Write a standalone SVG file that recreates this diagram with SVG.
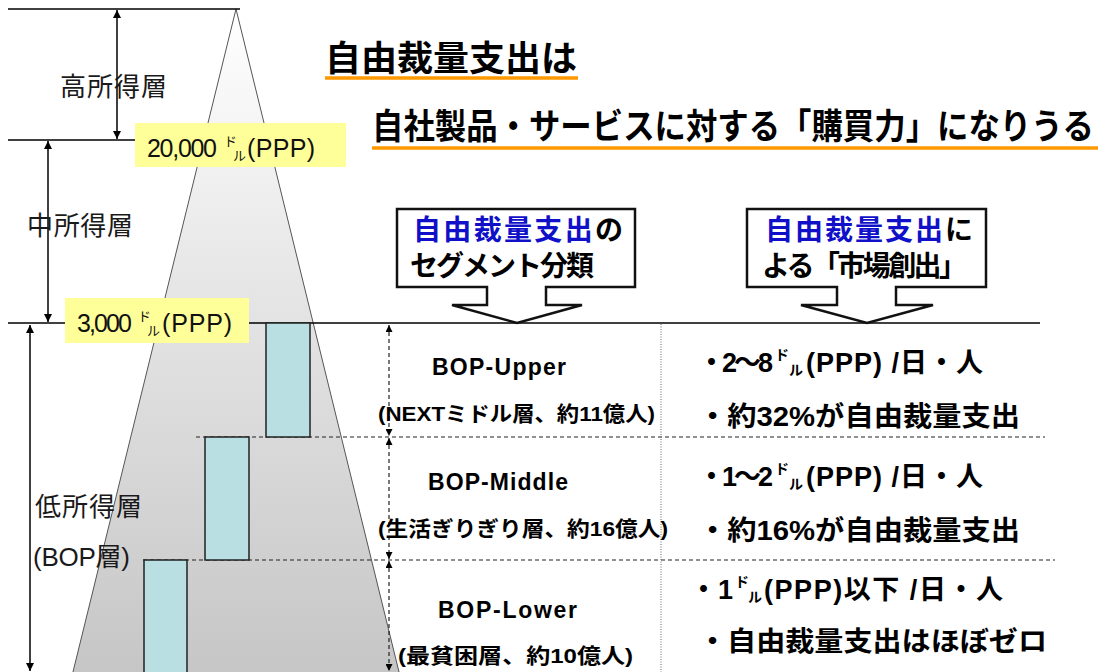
<svg xmlns="http://www.w3.org/2000/svg" width="1103" height="672" viewBox="0 0 1103 672">
<style>
text{font-family:"Liberation Sans","Noto Sans CJK JP",sans-serif;}
.lbl{font-size:26px;fill:#1a1a1a;}
.yl{font-size:25px;fill:#111;}
.ttl{font-size:31px;font-weight:bold;fill:#000;}
.co{font-size:28px;font-weight:bold;fill:#000;}
.blue{fill:#1010c8;}
.bop{font-size:23px;font-weight:bold;fill:#000;}
.sub{font-size:21px;font-weight:bold;fill:#000;}
.rc{font-size:27px;font-weight:bold;fill:#000;}
text.sm{font-size:13px;}
text.rc.sm{font-size:14px;}
.solid{stroke:#000;stroke-width:1.5;fill:none;}
.dash{stroke:#222;stroke-width:1.2;stroke-dasharray:4 3;fill:none;}
.teal{fill:#b9dfe2;stroke:#222;stroke-width:1.5;}
.ybox{fill:#ffff99;}
.callout{fill:#fff;stroke:#111;stroke-width:2.5;}
.uline{stroke:#ff9900;stroke-width:3.5;}
</style>
<defs>
<linearGradient id="g" x1="0" y1="9" x2="0" y2="672" gradientUnits="userSpaceOnUse">
<stop offset="0" stop-color="#ffffff"/>
<stop offset="0.47" stop-color="#e3e3e3"/>
<stop offset="1" stop-color="#c6c6c6"/>
</linearGradient>
<marker id="ah" viewBox="0 0 10 10" refX="10" refY="5" markerWidth="8" markerHeight="8" markerUnits="userSpaceOnUse" orient="auto-start-reverse">
<path d="M0,0 L10,5 L0,10 Z" fill="#000"/>
</marker>
<marker id="ahs" viewBox="0 0 10 10" refX="10" refY="5" markerWidth="7" markerHeight="7" markerUnits="userSpaceOnUse" orient="auto-start-reverse">
<path d="M0,0 L10,5 L0,10 Z" fill="#000"/>
</marker>
</defs>

<g id="pyramid">
<polygon points="236,9 71,680 401,680" fill="url(#g)" stroke="#555" stroke-width="1"/>
</g>

<g id="levels">
<line x1="8" y1="9" x2="240" y2="9" class="solid" stroke-width="1.2"/>
<line x1="8" y1="140" x2="140" y2="140" class="solid" stroke-width="1.2"/>
<line x1="8" y1="323" x2="1040" y2="323" class="solid" stroke-width="1.2"/>
<line x1="196" y1="437" x2="1045" y2="437" class="dash"/>
<line x1="143" y1="560" x2="1055" y2="560" class="dash"/>
<line x1="661" y1="324" x2="661" y2="672" stroke="#666" stroke-width="1" stroke-dasharray="1 1.5"/>
</g>

<g id="bars">
<rect x="266" y="323" width="44" height="114" class="teal"/>
<rect x="205" y="437" width="44" height="123" class="teal"/>
<rect x="144" y="560" width="43" height="120" class="teal"/>
</g>

<g id="connectors">
<line x1="117" y1="10" x2="117" y2="139" class="solid" marker-start="url(#ah)" marker-end="url(#ah)"/>
<line x1="48" y1="141" x2="48" y2="322" class="solid" marker-start="url(#ah)" marker-end="url(#ah)"/>
<line x1="30" y1="325" x2="30" y2="671" class="solid" marker-start="url(#ah)" marker-end="url(#ah)"/>
<line x1="389" y1="325" x2="389" y2="436" class="dash" marker-start="url(#ahs)" marker-end="url(#ahs)"/>
<line x1="389" y1="438" x2="389" y2="559" class="dash" marker-start="url(#ahs)" marker-end="url(#ahs)"/>
<line x1="389" y1="561" x2="389" y2="671" class="dash" marker-start="url(#ahs)" marker-end="url(#ahs)"/>
</g>

<g id="label-high"><text class="lbl" x="60" y="96" textLength="107">高所得層</text></g>
<g id="label-mid"><text class="lbl" x="27" y="235" textLength="106">中所得層</text></g>
<g id="label-low">
<text class="lbl" x="35" y="516" textLength="107">低所得層</text>
<text class="lbl" x="33" y="566" textLength="97">(BOP層)</text>
</g>

<g id="price-20000">
<rect x="135" y="123" width="211" height="44" class="ybox"/>
<text class="yl" x="147" y="157" textLength="70">20,000</text>
<text class="yl sm" x="224" y="146">ド</text>
<text class="yl sm" x="233" y="160">ル</text>
<text class="yl" x="247" y="157" textLength="68">(PPP)</text>
</g>
<g id="price-3000">
<rect x="65" y="298" width="184" height="45" class="ybox"/>
<text class="yl" x="77" y="332" textLength="55">3,000</text>
<text class="yl sm" x="138" y="321">ド</text>
<text class="yl sm" x="147" y="335">ル</text>
<text class="yl" x="162" y="332" textLength="70">(PPP)</text>
</g>

<g id="title">
<text class="ttl" transform="translate(325,71) scale(1,1.12)" x="0" y="0" textLength="252" lengthAdjust="spacingAndGlyphs">自由裁量支出は</text>
<line x1="325" y1="78" x2="578" y2="78" class="uline"/>
<text class="ttl" transform="translate(372,139) scale(1,1.12)" x="0" y="0" textLength="722" lengthAdjust="spacingAndGlyphs">自社製品・サービスに対する「購買力」になりうる</text>
<line x1="372" y1="148" x2="1098" y2="148" class="uline"/>
</g>

<g id="callout-segment">
<path d="M397,209 H635 V287 H546 V305 H582 L517,323 L452,305 H487 V287 H397 Z" class="callout"/>
<text class="co" x="413" y="240" textLength="210"><tspan class="blue">自由裁量支出</tspan>の</text>
<text class="co" x="410" y="276" textLength="184">セグメント分類</text>
</g>
<g id="callout-market">
<path d="M747,209 H986 V287 H896 V305 H933 L867,323 L801,305 H837 V287 H747 Z" class="callout"/>
<text class="co" x="765" y="240" textLength="208"><tspan class="blue">自由裁量支出</tspan>に</text>
<text class="co" x="762" y="276" textLength="205">よる「市場創出」</text>
</g>

<g id="bop-upper">
<text class="bop" x="432" y="375" textLength="134">BOP-Upper</text>
<text class="sub" x="378" y="421" textLength="277" lengthAdjust="spacingAndGlyphs">(NEXTミドル層、約11億人)</text>
</g>
<g id="bop-middle">
<text class="bop" x="428" y="490" textLength="140">BOP-Middle</text>
<text class="sub" x="378" y="536" textLength="290" lengthAdjust="spacingAndGlyphs">(生活ぎりぎり層、約16億人)</text>
</g>
<g id="bop-lower">
<text class="bop" x="438" y="618" textLength="139">BOP-Lower</text>
<text class="sub" x="398" y="663" textLength="235" lengthAdjust="spacingAndGlyphs">(最貧困層、約10億人)</text>
</g>

<g id="upper-detail">
<text class="rc" x="698" y="372" textLength="75">・2〜8</text>
<text class="rc sm" x="775" y="360">ド</text>
<text class="rc sm" x="789" y="375">ル</text>
<text class="rc" x="806" y="372" textLength="177">(PPP) /日・人</text>
<text class="rc" x="698" y="426" textLength="322" lengthAdjust="spacingAndGlyphs">・約32%が自由裁量支出</text>
</g>
<g id="middle-detail">
<text class="rc" x="698" y="486" textLength="75">・1〜2</text>
<text class="rc sm" x="775" y="474">ド</text>
<text class="rc sm" x="789" y="489">ル</text>
<text class="rc" x="806" y="486" textLength="177">(PPP) /日・人</text>
<text class="rc" x="698" y="540" textLength="322" lengthAdjust="spacingAndGlyphs">・約16%が自由裁量支出</text>
</g>
<g id="lower-detail">
<text class="rc" y="599"><tspan x="690">・</tspan><tspan x="718">1</tspan></text>
<text class="rc sm" x="735" y="587">ド</text>
<text class="rc sm" x="748" y="602">ル</text>
<text class="rc" x="764" y="599" textLength="239">(PPP)以下 /日・人</text>
<text class="rc" x="698" y="651" textLength="349" lengthAdjust="spacingAndGlyphs">・自由裁量支出はほぼゼロ</text>
</g>
</svg>
